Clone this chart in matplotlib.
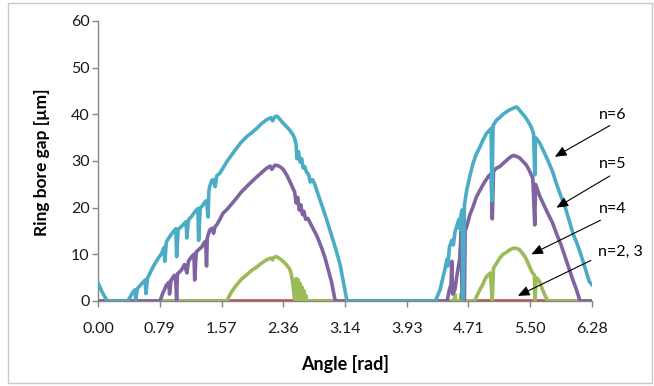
import matplotlib
matplotlib.use("Agg")
import matplotlib.pyplot as plt
from matplotlib.patches import Rectangle

plt.rcParams['font.family'] = ['Lato', 'DejaVu Sans']

# ---------------- data ----------------
x_ticks = [0.00, 0.785, 1.571, 2.356, 3.142, 3.927, 4.712, 5.498, 6.283]
x_tick_labels = ["0.00", "0.79", "1.57", "2.36", "3.14", "3.93", "4.71", "5.50", "6.28"]
y_ticks = [0, 10, 20, 30, 40, 50, 60]

# n = 2, 3 (zero gap everywhere)
x_n23 = [0.00, 6.283]
y_n23 = [0.0, 0.0]

# n = 4
x_n4 = [0.00, 1.64, 1.66, 1.70, 1.76, 1.82, 1.89, 1.95, 2.02, 2.08, 2.14, 2.20,
        2.22, 2.24, 2.27, 2.31, 2.36, 2.40, 2.44, 2.46, 2.48, 2.50,
        2.52, 2.53, 2.545, 2.555, 2.57, 2.58, 2.595, 2.605, 2.62, 2.63, 2.645, 2.655, 2.67,
        4.53, 4.54, 4.55, 4.61, 4.62, 4.63,
        4.79, 4.81, 4.85, 4.88, 4.94, 4.99, 5.015, 5.03, 5.07, 5.11, 5.15, 5.20, 5.24,
        5.28, 5.32, 5.36, 5.40, 5.43, 5.46, 5.49, 5.52, 5.55, 5.56, 5.57, 5.59, 5.62,
        5.65, 5.68, 5.72, 6.283]
y_n4 = [0.0, 0.0, 0.8, 2.0, 3.4, 4.6, 5.6, 6.5, 7.3, 8.1, 8.8, 9.2,
        8.8, 9.4, 9.5, 9.1, 8.4, 7.7, 6.8, 5.6, 3.4, 0.4,
        4.8, 0.2, 4.6, 0.2, 3.8, 0.2, 3.0, 0.2, 2.2, 0.1, 1.2, 0.0, 0.0,
        0.0, 1.5, 0.0, 0.0, 1.5, 0.0,
        0.0, 0.8, 2.2, 3.1, 5.2, 6.0, 0.2, 7.0, 8.1, 9.2, 10.0, 10.5, 11.0,
        11.3, 11.3, 11.0, 10.2, 9.5, 8.5, 7.3, 6.2, 5.5, 0.2, 5.0, 4.8, 4.0,
        2.6, 1.4, 0.0, 0.0]

# n = 5
x_n5 = [0.00, 0.79, 0.82, 0.87, 0.90, 0.91, 0.93, 0.97, 0.99, 1.00, 1.01, 1.06,
        1.10, 1.13, 1.15, 1.19, 1.22, 1.23, 1.25, 1.28, 1.32, 1.35, 1.37, 1.38,
        1.39, 1.42, 1.45, 1.47, 1.49, 1.51, 1.55, 1.59, 1.64, 1.70, 1.76, 1.82,
        1.89, 1.95, 2.02, 2.08, 2.14, 2.19, 2.21, 2.25, 2.29, 2.33, 2.36, 2.40,
        2.44, 2.47, 2.50, 2.52, 2.54, 2.56, 2.58, 2.60, 2.62, 2.64, 2.67, 2.72,
        2.78, 2.84, 2.89, 2.93, 2.97, 3.01, 3.02,
        4.44, 4.47, 4.49, 4.50, 4.51, 4.54, 4.57, 4.60, 4.62, 4.63, 4.66, 4.67,
        4.69, 4.73, 4.77, 4.81, 4.86, 4.91, 4.96, 5.00, 5.015, 5.03, 5.07, 5.11,
        5.16, 5.20, 5.24, 5.28, 5.32, 5.36, 5.40, 5.45, 5.49, 5.53, 5.555, 5.565,
        5.59, 5.62, 5.67, 5.72, 5.78, 5.83, 5.89, 5.94, 5.99, 6.04, 6.09, 6.13, 6.283]
y_n5 = [0.0, 0.0, 1.5, 3.4, 4.0, 1.5, 4.5, 5.5, 4.0, 0.2, 5.8, 6.6,
        7.8, 6.0, 8.5, 9.5, 10.0, 4.5, 10.5, 11.0, 11.6, 12.5, 12.8, 7.5,
        13.5, 15.2, 15.6, 14.5, 16.0, 16.3, 17.5, 18.8, 19.6, 20.8, 22.0, 23.3,
        24.5, 25.5, 26.6, 27.5, 28.4, 28.9, 28.2, 29.1, 29.0, 28.6, 28.1, 27.0,
        25.6, 24.5, 23.4, 21.0, 22.2, 19.5, 20.6, 18.5, 19.2, 17.5, 17.7, 16.0,
        14.1, 11.6, 9.1, 6.6, 4.1, 0.6, 0.0,
        0.0, 2.5, 3.5, 8.5, 1.5, 2.5, 6.0, 9.0, 15.0, 0.5, 0.3, 15.0,
        16.0, 18.5, 20.2, 22.2, 23.8, 25.3, 26.6, 27.3, 17.6, 27.8, 28.5, 28.8,
        29.6, 30.2, 30.8, 31.2, 31.0, 30.7, 30.0, 29.1, 27.8, 26.3, 16.3, 25.0,
        23.8, 22.4, 20.6, 18.8, 16.8, 14.5, 12.0, 9.5, 7.0, 4.5, 2.2, 0.0, 0.0]

# n = 6
x_n6 = [0.00, 0.05, 0.11, 0.15, 0.38, 0.44, 0.47, 0.48, 0.50, 0.55, 0.60, 0.61,
        0.63, 0.70, 0.76, 0.81, 0.84, 0.85, 0.87, 0.92, 0.96, 0.99, 1.00, 1.02,
        1.08, 1.12, 1.13, 1.15, 1.19, 1.24, 1.27, 1.28, 1.30, 1.32, 1.36, 1.38,
        1.40, 1.41, 1.42, 1.45, 1.47, 1.49, 1.51, 1.55, 1.60, 1.64, 1.70, 1.76,
        1.82, 1.89, 1.95, 2.02, 2.08, 2.14, 2.20, 2.22, 2.25, 2.28, 2.31, 2.34,
        2.39, 2.44, 2.48, 2.50, 2.52, 2.53, 2.55, 2.57, 2.59, 2.61, 2.63, 2.65,
        2.68, 2.70, 2.73, 2.76, 2.80, 2.86, 2.92, 2.97, 3.03, 3.08, 3.12, 3.16, 3.17,
        4.29, 4.35, 4.41, 4.44, 4.45, 4.47, 4.50, 4.52, 4.54, 4.56, 4.59, 4.60,
        4.62, 4.63, 4.645, 4.66, 4.69, 4.73, 4.77, 4.81, 4.86, 4.90, 4.94, 4.98,
        5.00, 5.01, 5.025, 5.07, 5.11, 5.15, 5.20, 5.24, 5.28, 5.32, 5.34, 5.36,
        5.39, 5.43, 5.47, 5.51, 5.54, 5.555, 5.565, 5.59, 5.62, 5.67, 5.72, 5.78,
        5.83, 5.88, 5.94, 5.99, 6.04, 6.10, 6.15, 6.20, 6.25, 6.283]
y_n6 = [3.9, 2.0, 0.2, 0.0, 0.0, 1.8, 2.4, 0.3, 2.6, 3.6, 4.5, 1.6,
        4.9, 7.3, 9.0, 10.2, 11.5, 8.5, 12.7, 14.0, 14.9, 15.5, 9.5, 15.3,
        16.3, 17.0, 13.5, 17.4, 18.1, 19.3, 19.8, 13.0, 20.0, 20.2, 21.2, 21.5,
        18.0, 23.5, 24.5, 25.9, 26.0, 24.5, 26.8, 27.4, 28.8, 29.9, 31.3, 32.7,
        34.0, 35.2, 36.0, 37.0, 38.0, 38.8, 39.3, 38.6, 39.5, 39.6, 39.0, 38.4,
        37.5, 36.6, 35.6, 34.9, 33.5, 30.5, 32.0, 29.8, 30.5, 28.5, 28.8, 27.7,
        27.0, 25.5, 26.0, 24.9, 22.8, 19.9, 16.8, 14.1, 10.8, 7.7, 4.2, 0.6, 0.0,
        0.0, 2.4, 6.6, 9.0, 7.5, 11.6, 13.0, 12.0, 14.8, 15.9, 17.5, 15.5,
        18.8, 19.5, 0.3, 20.5, 23.8, 26.8, 29.5, 31.4, 33.1, 34.6, 35.9, 36.6,
        37.0, 21.5, 37.6, 38.8, 39.3, 40.0, 40.6, 41.0, 41.3, 41.6, 41.3, 40.9,
        40.3, 39.5, 38.5, 37.3, 35.8, 27.0, 35.0, 34.5, 33.8, 32.0, 30.2, 27.8,
        25.2, 22.8, 20.2, 17.4, 14.5, 12.0, 9.5, 6.8, 4.1, 3.5]

# annotations: label, text position, arrow tail, arrow head (data coords)
ann_labels = ["n=6", "n=5", "n=4", "n=2, 3"]
ann_text_xy = [(6.55, 39.8), (6.55, 29.3), (6.54, 19.7), (6.65, 10.5)]
ann_tail_xy = [(6.51, 37.6), (6.51, 26.8), (6.39, 17.3), (6.27, 8.7)]
ann_head_xy = [(5.81, 30.9), (5.83, 20.0), (5.51, 10.0), (5.34, 1.1)]

# ---------------- figure ----------------
fig = plt.figure(figsize=(6.54, 3.86), dpi=100)
fig.patch.set_facecolor("white")
fig.patches.append(Rectangle((8 / 654, 3 / 386), 644 / 654, 380 / 386,
                             transform=fig.transFigure, fill=False,
                             edgecolor="#c8c8c8", linewidth=1.0))

ax = fig.add_axes([98 / 654, 85 / 386, 494 / 654, 280 / 386])

lw = 2.6
ax.plot(x_n23, y_n23, color="#C0504D", lw=lw, solid_joinstyle="round", zorder=2)
ax.plot(x_n4, y_n4, color="#9BBB59", lw=lw, solid_joinstyle="round", zorder=3)
ax.plot(x_n5, y_n5, color="#8064A2", lw=lw, solid_joinstyle="round", zorder=4)
ax.plot(x_n6, y_n6, color="#4BACC6", lw=lw, solid_joinstyle="round", zorder=5)

ax.set_xlim(0, 6.283)
ax.set_ylim(0, 60)
ax.set_xticks(x_ticks)
ax.set_xticklabels(x_tick_labels)
ax.set_yticks(y_ticks)

for side in ("top", "right"):
    ax.spines[side].set_visible(False)
for side in ("left", "bottom"):
    ax.spines[side].set_color("#868686")
    ax.spines[side].set_linewidth(1.0)
ax.spines["bottom"].set_zorder(1)

ax.tick_params(axis="x", direction="out", length=4, width=1, color="#868686",
               pad=11, labelsize=11.5, labelcolor="#1a1a1a")
ax.tick_params(axis="y", direction="out", length=4, width=1, color="#868686",
               pad=2, labelsize=11.5, labelcolor="#1a1a1a")

fig.text(345 / 654, 1 - 364 / 386, "Angle [rad]", ha="center", va="center",
         fontsize=13, fontweight="bold")
fig.text(42 / 654, 1 - 162 / 386, "Ring bore gap [µm]", ha="center", va="center",
         rotation=90, fontsize=12.5, fontweight="bold")

for lab, txy, tail, head in zip(ann_labels, ann_text_xy, ann_tail_xy, ann_head_xy):
    ax.text(txy[0], txy[1], lab, ha="center", va="center", fontsize=11.5,
            clip_on=False, zorder=6)
    ax.annotate("", xy=head, xytext=tail, xycoords="data", textcoords="data",
                annotation_clip=False,
                arrowprops=dict(arrowstyle="-|>,head_length=0.7,head_width=0.3",
                                color="black", lw=0.8, shrinkA=0, shrinkB=0),
                zorder=6)

fig.savefig("out.png", dpi=100, facecolor="white")
